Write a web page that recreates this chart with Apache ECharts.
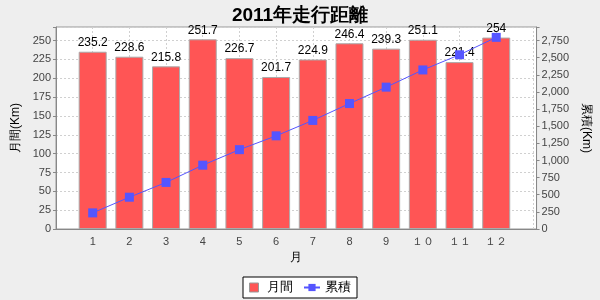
<!DOCTYPE html>
<html><head><meta charset="utf-8">
<script src="https://cdn.jsdelivr.net/npm/echarts@6/dist/echarts.min.js"></script>
<style>html,body{margin:0;padding:0;background:#eeeeee}#c{width:600px;height:300px}</style>
</head><body><div id="c"></div>
<script>
const titleText = '2011年走行距離';
const categories = ['1','2','3','4','5','6','7','8','9','１０','１１','１２'];
const monthly = [235.2, 228.6, 215.8, 251.7, 226.7, 201.7, 224.9, 246.4, 239.3, 251.1, 221.4, 254];
const cumulative = [235.2, 463.8, 679.6, 931.3, 1158.0, 1359.7, 1584.6, 1831.0, 2070.3, 2321.4, 2542.8, 2796.8];
const leftTicks = [0, 25, 50, 75, 100, 125, 150, 175, 200, 225, 250];
const rightTicks = [0, 250, 500, 750, 1000, 1250, 1500, 1750, 2000, 2250, 2500, 2750];

const FONT = 'Liberation Sans';
const chart = echarts.init(document.getElementById('c'), null, {renderer: 'canvas'});
const fmtComma = v => String(v).replace(/\B(?=(\d{3})+(?!\d))/g, ',');

chart.setOption({
  backgroundColor: '#eeeeee',
  animation: false,
  textStyle: {fontFamily: FONT},
  title: {
    text: titleText, left: 'center', top: 1,
    textStyle: {fontSize: 19, fontWeight: 'bold', color: '#000', fontFamily: FONT}
  },
  legend: {
    bottom: 2, left: 'center',
    backgroundColor: '#ffffff', borderColor: '#000', borderWidth: 1,
    padding: [4, 6], itemGap: 10, itemWidth: 16, itemHeight: 9,
    symbolKeepAspect: true,
    textStyle: {fontSize: 13, color: '#000', fontFamily: FONT},
    data: [
      {name: '月間', icon: 'path://M0,0h10v10h-10z', itemStyle: {borderColor: '#999', borderWidth: 1}},
      {name: '累積'}
    ]
  },
  grid: {
    left: 56, right: 63, top: 27, bottom: 71,
    show: true, backgroundColor: '#ffffff', borderColor: '#999', borderWidth: 1
  },
  xAxis: {
    type: 'value', min: 0, max: 13.1, interval: 1,
    name: '月', nameLocation: 'middle', nameGap: 22,
    nameTextStyle: {fontSize: 12, color: '#000', fontFamily: FONT},
    axisLine: {show: true, lineStyle: {color: '#888'}},
    axisTick: {show: false},
    axisLabel: {
      fontSize: 11, color: '#444', margin: 7, showMinLabel: false, showMaxLabel: false,
      formatter: v => (Number.isInteger(v) && v >= 1 && v <= categories.length) ? categories[v - 1] : ''
    },
    splitLine: {show: true, lineStyle: {color: '#d0d0d0', type: [2, 2]}}
  },
  yAxis: [
    {
      type: 'value', min: 0, max: 268, interval: 25, position: 'left',
      name: '月間(Km)', nameLocation: 'middle', nameGap: 31,
      nameTextStyle: {fontSize: 12, color: '#000', fontFamily: FONT},
      axisLine: {show: true, lineStyle: {color: '#888'}},
      axisTick: {show: true, length: 3, lineStyle: {color: '#888'}},
      axisLabel: {fontSize: 11, color: '#444', margin: 5,
        formatter: v => leftTicks.includes(v) ? String(v) : ''},
      splitLine: {show: true, lineStyle: {color: '#d0d0d0', type: [2, 2]}}
    },
    {
      type: 'value', min: 0, max: 2948, interval: 250, position: 'right',
      name: '累積(Km)', nameLocation: 'middle', nameGap: 41, nameRotate: -90,
      nameTextStyle: {fontSize: 12, color: '#000', fontFamily: FONT},
      axisLine: {show: true, lineStyle: {color: '#888'}},
      axisTick: {show: true, length: 3, lineStyle: {color: '#888'}},
      axisLabel: {fontSize: 11, color: '#444', margin: 5,
        formatter: v => rightTicks.includes(v) ? fmtComma(v) : ''},
      splitLine: {show: false}
    }
  ],
  series: [
    {
      name: '月間', type: 'bar', yAxisIndex: 0, barWidth: 28,
      data: monthly.map((v, i) => [i + 1, v]),
      itemStyle: {color: '#ff5555', borderColor: '#aaaaaa', borderWidth: 1},
      label: {show: true, position: 'top', distance: 3, fontSize: 12, color: '#000',
        fontFamily: FONT, formatter: p => String(p.value[1])},
      z: 2
    },
    {
      name: '累積', type: 'line', yAxisIndex: 1,
      data: cumulative.map((v, i) => [i + 1, v]),
      symbol: 'rect', symbolSize: 9, showAllSymbol: true,
      lineStyle: {color: '#5555ff', width: 1},
      itemStyle: {color: '#5555ff'},
      z: 3
    }
  ]
});
</script></body></html>
